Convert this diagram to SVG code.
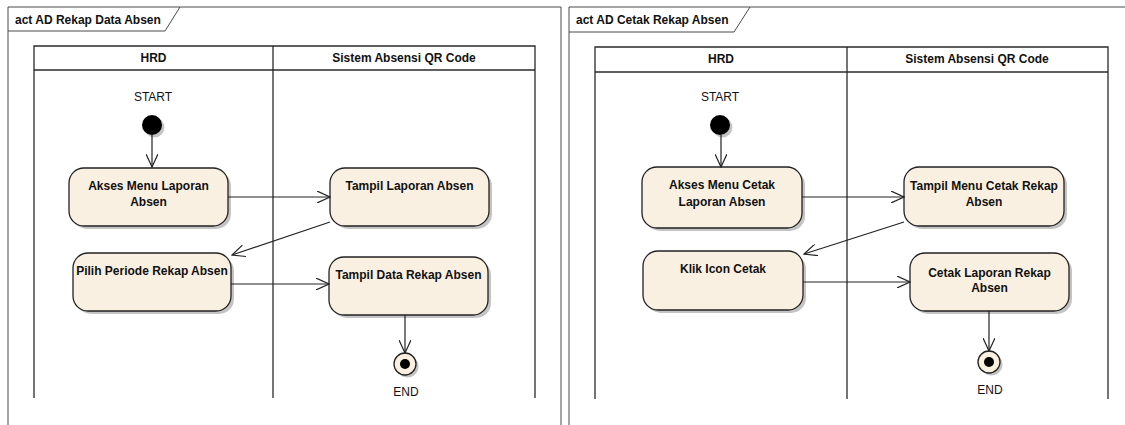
<svg xmlns="http://www.w3.org/2000/svg" width="1125" height="425" viewBox="0 0 1125 425">
  <style>
    .frame { fill: none; stroke: #4a4a4a; stroke-width: 1; }
    .lane { fill: none; stroke: #2a2a2a; stroke-width: 1.3; }
    .title { font-family: "Liberation Sans", Arial, sans-serif; font-size: 12px; font-weight: bold; fill: #111; }
    .hdr { font-family: "Liberation Sans", Arial, sans-serif; font-size: 12px; font-weight: bold; fill: #111; text-anchor: middle; }
    .act { fill: #FAF0E1; stroke: #222; stroke-width: 1.3; }
    .shadow { fill: #c4c4c4; }
    .lbl { font-family: "Liberation Sans", Arial, sans-serif; font-size: 12px; font-weight: bold; fill: #111; text-anchor: middle; }
    .nm { font-family: "Liberation Sans", Arial, sans-serif; font-size: 12px; fill: #111; text-anchor: middle; }
    .flow { fill: none; stroke: #222; stroke-width: 1.2; marker-end: url(#open); }
  </style>
  <defs>
    <marker id="open" viewBox="0 0 14 12" refX="13" refY="6" markerWidth="14" markerHeight="12" markerUnits="userSpaceOnUse" orient="auto">
      <path d="M0,0 L13,6 L0,12" fill="none" stroke="#222" stroke-width="1.2"/>
    </marker>
  </defs>
  <rect width="1125" height="425" fill="#fff"/>

  <!-- ===== Left frame: act AD Rekap Data Absen ===== -->
  <g id="frame-rekap">
    <path class="frame" d="M8,430 L8,7 L561,7 L561,430"/>
    <path class="frame" d="M8,31 L165,31 L180,7"/>
    <text class="title" x="15" y="24">act AD Rekap Data Absen</text>
  </g>
  <g id="lanes-rekap">
    <path class="lane" d="M34,398 L34,46 L535,46 L535,398"/>
    <line class="lane" x1="34" y1="70" x2="535" y2="70"/>
    <line class="lane" x1="273" y1="46" x2="273" y2="398"/>
    <text class="hdr" x="153.5" y="62">HRD</text>
    <text class="hdr" x="404" y="62">Sistem Absensi QR Code</text>
  </g>

  <g id="start-rekap">
    <text class="nm" x="153" y="101">START</text>
    <circle class="shadow" cx="154.5" cy="127.5" r="10"/>
    <circle cx="152" cy="125" r="10" fill="#000"/>
  </g>
  <g id="akses-laporan">
    <rect class="shadow" x="72" y="171" width="159" height="58" rx="15"/>
    <rect class="act" x="69" y="168" width="159" height="58" rx="15"/>
    <text class="lbl" x="148.5" y="190">Akses Menu Laporan</text>
    <text class="lbl" x="148.5" y="206">Absen</text>
  </g>
  <g id="pilih-periode">
    <rect class="shadow" x="76" y="256" width="158" height="58" rx="15"/>
    <rect class="act" x="73" y="253" width="158" height="58" rx="15"/>
    <text class="lbl" x="152" y="275">Pilih Periode Rekap Absen</text>
  </g>
  <g id="tampil-laporan">
    <rect class="shadow" x="333" y="171" width="159" height="58" rx="15"/>
    <rect class="act" x="330" y="168" width="159" height="58" rx="15"/>
    <text class="lbl" x="409.5" y="190">Tampil Laporan Absen</text>
  </g>
  <g id="tampil-data">
    <rect class="shadow" x="332" y="260" width="159" height="58" rx="15"/>
    <rect class="act" x="329" y="257" width="159" height="58" rx="15"/>
    <text class="lbl" x="408.5" y="279">Tampil Data Rekap Absen</text>
  </g>
  <g id="end-rekap">
    <circle class="shadow" cx="407.5" cy="366.5" r="11"/>
    <circle cx="405" cy="364" r="11" fill="#FAF0E1" stroke="#222" stroke-width="1.3"/>
    <circle cx="405" cy="364" r="5" fill="#000"/>
    <text class="nm" x="406" y="396">END</text>
  </g>

  <g id="flows-rekap">
    <line class="flow" x1="152" y1="135" x2="152" y2="167"/>
    <line class="flow" x1="228" y1="197" x2="330" y2="197"/>
    <line class="flow" x1="330" y1="222" x2="232" y2="255"/>
    <line class="flow" x1="231" y1="284" x2="329" y2="284"/>
    <line class="flow" x1="405" y1="315" x2="405" y2="353"/>
  </g>

  <!-- ===== Right frame: act AD Cetak Rekap Absen ===== -->
  <g id="frame-cetak">
    <path class="frame" d="M569,430 L569,7 L1130,7"/>
    <path class="frame" d="M569,32 L734,32 L750,7"/>
    <text class="title" x="576" y="24">act AD Cetak Rekap Absen</text>
  </g>
  <g id="lanes-cetak">
    <path class="lane" d="M595,399 L595,47 L1108,47 L1108,399"/>
    <line class="lane" x1="595" y1="72" x2="1108" y2="72"/>
    <line class="lane" x1="847" y1="47" x2="847" y2="399"/>
    <text class="hdr" x="721" y="63">HRD</text>
    <text class="hdr" x="977" y="63">Sistem Absensi QR Code</text>
  </g>

  <g id="start-cetak">
    <text class="nm" x="720" y="101">START</text>
    <circle class="shadow" cx="722.5" cy="127.5" r="10"/>
    <circle cx="720" cy="125" r="10" fill="#000"/>
  </g>
  <g id="akses-cetak">
    <rect class="shadow" x="645" y="170" width="160" height="61" rx="15"/>
    <rect class="act" x="642" y="167" width="160" height="61" rx="15"/>
    <text class="lbl" x="722" y="189">Akses Menu Cetak</text>
    <text class="lbl" x="722" y="206">Laporan Absen</text>
  </g>
  <g id="klik-icon">
    <rect class="shadow" x="646" y="254" width="160" height="59" rx="15"/>
    <rect class="act" x="643" y="251" width="160" height="59" rx="15"/>
    <text class="lbl" x="723" y="273">Klik Icon Cetak</text>
  </g>
  <g id="tampil-menu-cetak">
    <rect class="shadow" x="907" y="170" width="160" height="59" rx="15"/>
    <rect class="act" x="904" y="167" width="160" height="59" rx="15"/>
    <text class="lbl" x="984" y="190">Tampil Menu Cetak Rekap</text>
    <text class="lbl" x="984" y="206">Absen</text>
  </g>
  <g id="cetak-laporan">
    <rect class="shadow" x="913" y="256" width="159" height="58" rx="15"/>
    <rect class="act" x="910" y="253" width="159" height="58" rx="15"/>
    <text class="lbl" x="989.5" y="277">Cetak Laporan Rekap</text>
    <text class="lbl" x="989.5" y="292">Absen</text>
  </g>
  <g id="end-cetak">
    <circle class="shadow" cx="991.5" cy="364.5" r="11"/>
    <circle cx="989" cy="362" r="11" fill="#FAF0E1" stroke="#222" stroke-width="1.3"/>
    <circle cx="989" cy="362" r="5" fill="#000"/>
    <text class="nm" x="990" y="394">END</text>
  </g>

  <g id="flows-cetak">
    <line class="flow" x1="721" y1="135" x2="721" y2="167"/>
    <line class="flow" x1="802" y1="197" x2="904" y2="197"/>
    <line class="flow" x1="904" y1="222" x2="804" y2="254"/>
    <line class="flow" x1="803" y1="282" x2="910" y2="282"/>
    <line class="flow" x1="989" y1="311" x2="989" y2="351"/>
  </g>
</svg>
